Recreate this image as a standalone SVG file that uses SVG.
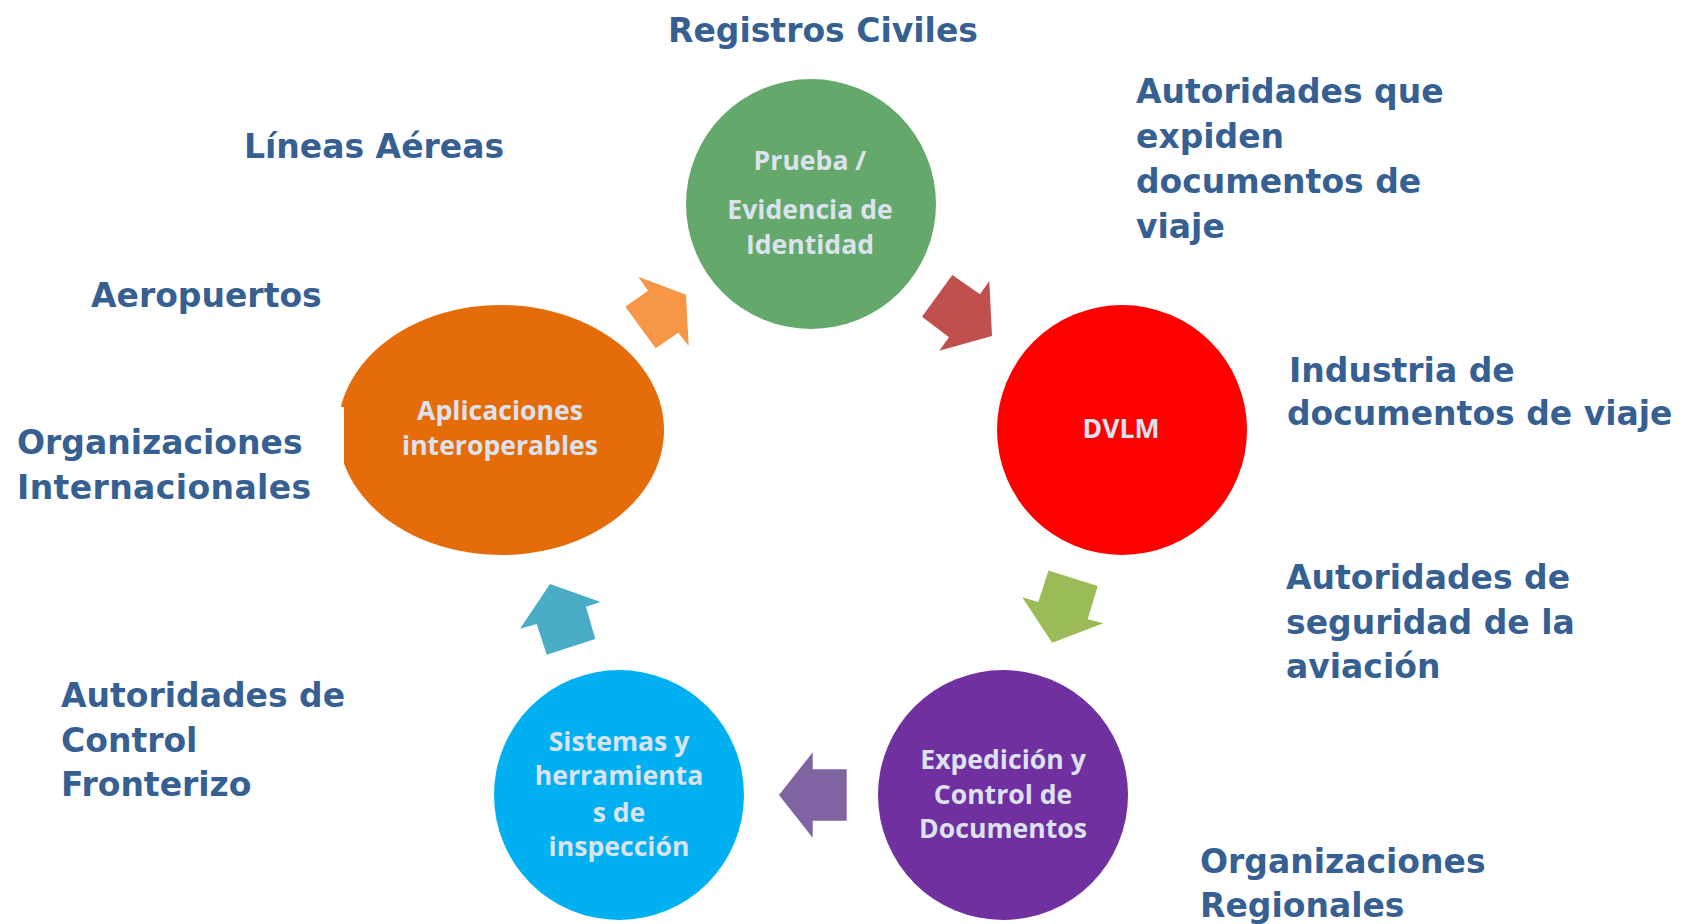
<svg xmlns="http://www.w3.org/2000/svg" width="1692" height="924" viewBox="0 0 1692 924">
<style>
.lbl{font-family:"DejaVu Sans","Liberation Sans",sans-serif;font-weight:bold;font-size:33px;fill:#376092;}
.nt{font-family:"Open Sans","Liberation Sans",sans-serif;font-weight:bold;font-size:26.6px;fill:#dce3ef;text-anchor:middle;}
</style>
<rect width="1692" height="924" fill="#ffffff"/>
<g id="connectors">
<polygon id="arr-orange" fill="#f79646" points="638.3,276.7 686,294.7 688.7,346 678.3,332.7 655.7,348.3 625.3,306.7 648,290.7"/>
<polygon id="arr-red" fill="#c0504d" points="952.3,275 980,294.3 989.3,281 992,336 939.3,350.7 949,337.3 922,316.7"/>
<polygon id="arr-green" fill="#9bbb59" points="1048.5,570.5 1097.7,586 1087.7,619.2 1103.3,623.3 1052.2,642.7 1022.2,597.3 1038.3,602"/>
<polygon id="arr-purple" fill="#8064a2" points="812.7,752.3 812.7,769.3 846.7,769.3 846.7,820.7 812.7,820.7 812.7,837.7 779,795"/>
<polygon id="arr-teal" fill="#4bacc6" points="550,584 600.7,602 586,606.7 595.3,639 546.7,654.7 536.7,624 520,628.7"/>
</g>
<g id="node-prueba">
<circle cx="811" cy="204" r="125" fill="#64a96b"/>
<text class="nt" x="810" y="170">Prueba /</text>
<text class="nt" x="810" y="219">Evidencia de</text>
<text class="nt" x="810" y="254">Identidad</text>
</g>
<g id="node-dvlm">
<circle cx="1122" cy="430" r="125" fill="#ff0000"/>
<text class="nt" x="1121" y="438">DVLM</text>
</g>
<g id="node-expedicion">
<circle cx="1003" cy="795" r="125" fill="#7030a0"/>
<text class="nt" x="1003" y="769">Expedición y</text>
<text class="nt" x="1003" y="804">Control de</text>
<text class="nt" x="1003" y="838">Documentos</text>
</g>
<g id="node-sistemas">
<circle cx="619" cy="795" r="125" fill="#00b0f0"/>
<text class="nt" x="619" y="751">Sistemas y</text>
<text class="nt" x="619" y="785">herramienta</text>
<text class="nt" x="619" y="822">s de</text>
<text class="nt" x="619" y="856">inspección</text>
</g>
<g id="node-aplicaciones">
<path d="M 344 407 L 340.8 407 A 163 125 0 1 1 344 463.6 Z" fill="#e46c0a"/>
<text class="nt" x="500" y="420">Aplicaciones</text>
<text class="nt" x="500" y="455">interoperables</text>
</g>
<g id="lbl-registros"><text class="lbl" x="668" y="42">Registros Civiles</text></g>
<g id="lbl-lineas"><text class="lbl" x="244" y="158">Líneas Aéreas</text></g>
<g id="lbl-aeropuertos"><text class="lbl" x="91" y="307">Aeropuertos</text></g>
<g id="lbl-org-int">
<text class="lbl" x="17" y="454">Organizaciones</text>
<text class="lbl" x="17" y="499" letter-spacing="0.4">Internacionales</text>
</g>
<g id="lbl-control">
<text class="lbl" x="61" y="707">Autoridades de</text>
<text class="lbl" x="61" y="752">Control</text>
<text class="lbl" x="61" y="796">Fronterizo</text>
</g>
<g id="lbl-expiden">
<text class="lbl" x="1136" y="103">Autoridades que</text>
<text class="lbl" x="1136" y="148">expiden</text>
<text class="lbl" x="1136" y="193">documentos de</text>
<text class="lbl" x="1136" y="238">viaje</text>
</g>
<g id="lbl-industria">
<text class="lbl" x="1289" y="382">Industria de</text>
<text class="lbl" x="1287" y="425">documentos de viaje</text>
</g>
<g id="lbl-seguridad">
<text class="lbl" x="1286" y="589">Autoridades de</text>
<text class="lbl" x="1286" y="634">seguridad de la</text>
<text class="lbl" x="1286" y="678">aviación</text>
</g>
<g id="lbl-org-reg">
<text class="lbl" x="1200" y="873">Organizaciones</text>
<text class="lbl" x="1200" y="917">Regionales</text>
</g>
</svg>
